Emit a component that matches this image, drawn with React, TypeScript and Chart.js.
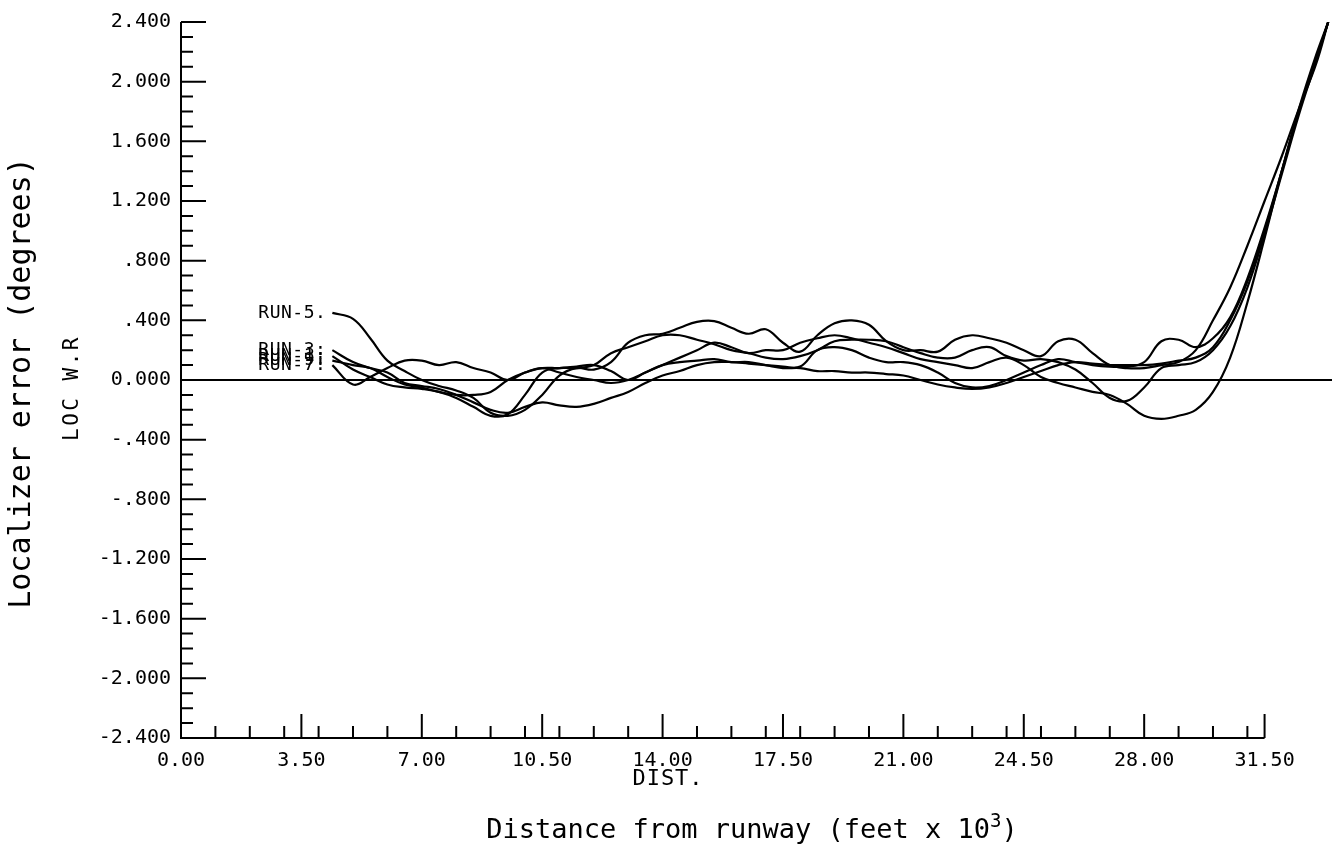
import React, { useEffect, useRef } from "react";
import { Chart, registerables } from "chart.js";

Chart.register(...registerables);

// ---------- data ----------
const distance = [
  4.4, 5, 5.5, 6, 6.5, 7, 7.5, 8, 8.5, 9, 9.5, 10, 10.5, 11, 11.5, 12, 12.5, 13, 13.5, 14,
  14.5, 15, 15.5, 16, 16.5, 17, 17.5, 18, 18.5, 19, 19.5, 20, 20.5, 21, 21.5, 22, 22.5, 23,
  23.5, 24, 24.5, 25, 25.5, 26, 26.5, 27, 27.5, 28, 28.5, 29, 29.5, 30, 30.5, 31, 31.5, 32,
  32.5, 33, 33.35,
];

const run5 = [
  0.45, 0.41, 0.28, 0.13, 0.06, 0.0, -0.04, -0.07, -0.12, -0.22, -0.24, -0.2, -0.1, 0.03, 0.08,
  0.07, 0.12, 0.25, 0.3, 0.31, 0.35, 0.39, 0.395, 0.35, 0.31, 0.34, 0.25, 0.19, 0.3, 0.38, 0.4,
  0.37, 0.26, 0.2, 0.2, 0.19, 0.27, 0.3, 0.28, 0.25, 0.2, 0.16, 0.26, 0.27, 0.18, 0.1, 0.08,
  0.08, 0.1, 0.12, 0.2, 0.4, 0.62, 0.9, 1.2, 1.5, 1.82, 2.12, 2.4,
];
const run3 = [
  0.2, 0.12, 0.08, 0.05, -0.02, -0.04, -0.06, -0.1, -0.15, -0.2, -0.22, -0.18, -0.15, -0.17,
  -0.18, -0.16, -0.12, -0.08, -0.02, 0.03, 0.06, 0.1, 0.12, 0.12, 0.11, 0.1, 0.09, 0.09, 0.2,
  0.22, 0.2, 0.15, 0.12, 0.12, 0.1, 0.05, -0.02, -0.05, -0.04, 0.0, 0.05, 0.1, 0.14, 0.12, 0.1,
  0.09, 0.09, 0.12, 0.26, 0.27, 0.22, 0.28, 0.42, 0.68, 1.02, 1.4, 1.8, 2.15, 2.4,
];
const run1 = [
  0.16, 0.07, 0.02, -0.03, -0.05, -0.06, -0.08, -0.12, -0.18, -0.24, -0.23, -0.1, 0.05, 0.08,
  0.08, 0.1, 0.18, 0.22, 0.26, 0.3, 0.3, 0.27, 0.24, 0.2, 0.18, 0.15, 0.14, 0.16, 0.2, 0.26,
  0.27, 0.27, 0.26, 0.22, 0.18, 0.15, 0.15, 0.2, 0.22, 0.16, 0.13, 0.14, 0.12, 0.07, -0.02,
  -0.12, -0.14, -0.05, 0.08, 0.1, 0.12, 0.2, 0.36, 0.62, 0.98, 1.38, 1.78, 2.14, 2.4,
];
const run9 = [
  0.13, 0.1, 0.08, 0.02, -0.03, -0.05, -0.08, -0.1, -0.1, -0.08, 0.0, 0.05, 0.08, 0.05, 0.02,
  0.0, -0.02, 0.0, 0.05, 0.1, 0.15, 0.2, 0.25, 0.22, 0.18, 0.2, 0.2, 0.25, 0.28, 0.3, 0.28,
  0.25, 0.22, 0.18, 0.14, 0.12, 0.1, 0.08, 0.12, 0.15, 0.1, 0.02, -0.02, -0.05, -0.08, -0.1,
  -0.16, -0.24, -0.26, -0.24, -0.2, -0.08, 0.15, 0.52, 0.95, 1.4, 1.82, 2.18, 2.4,
];
const run7 = [
  0.1, -0.03, 0.02, 0.08, 0.13, 0.13, 0.1, 0.12, 0.08, 0.05, 0.0, 0.05, 0.08, 0.08, 0.09, 0.1,
  0.06, 0.0, 0.05, 0.1, 0.12, 0.13, 0.14, 0.12, 0.12, 0.1, 0.08, 0.08, 0.06, 0.06, 0.05, 0.05,
  0.04, 0.03, 0.0, -0.03, -0.05, -0.06, -0.05, -0.02, 0.02, 0.06, 0.1, 0.12, 0.11, 0.1, 0.1,
  0.1, 0.11, 0.13, 0.15, 0.22, 0.4, 0.66, 1.0, 1.4, 1.8, 2.15, 2.4,
];

const runSeries = [run5, run3, run1, run9, run7];
const runLabels = ["RUN-5.", "RUN-3:", "RUN-1:", "RUN-9:", "RUN-7:"];

const zeroLineX = [0, 33.46];
const zeroLineY = [0, 0];

const xTickValues = [0, 3.5, 7, 10.5, 14, 17.5, 21, 24.5, 28, 31.5];
const xTickLabels = ["0.00", "3.50", "7.00", "10.50", "14.00", "17.50", "21.00", "24.50", "28.00", "31.50"];
const yTickValues = [2.4, 2.0, 1.6, 1.2, 0.8, 0.4, 0, -0.4, -0.8, -1.2, -1.6, -2.0, -2.4];
const yTickLabels = ["2.400", "2.000", "1.600", "1.200", ".800", ".400", "0.000", "-.400", "-.800", "-1.200", "-1.600", "-2.000", "-2.400"];

const X_MIN = 0;
const X_MAX = 33.46;
const X_AXIS_END = 31.5;
const Y_MIN = -2.4;
const Y_MAX = 2.4;

const MONO = "'DejaVu Sans Mono', monospace";

const plotterPlugin = {
  id: "plotter",
  afterDatasetsDraw(chart: any) {
    const { ctx } = chart;
    const xs = chart.scales.x;
    const ys = chart.scales.y;
    ctx.save();
    ctx.strokeStyle = "#000";
    ctx.fillStyle = "#000";
    ctx.lineWidth = 2;
    ctx.lineCap = "butt";

    const x0 = xs.getPixelForValue(X_MIN);
    const xEnd = xs.getPixelForValue(X_AXIS_END);
    const yTop = ys.getPixelForValue(Y_MAX);
    const yBot = ys.getPixelForValue(Y_MIN);

    ctx.beginPath();
    ctx.moveTo(x0, yTop);
    ctx.lineTo(x0, yBot);
    ctx.lineTo(xEnd, yBot);
    ctx.stroke();

    // y ticks: minor every 0.1, major every 0.4 (inward)
    ctx.beginPath();
    for (let i = 0; i <= 48; i++) {
      const v = Y_MIN + i * 0.1;
      const py = ys.getPixelForValue(v);
      const len = i % 4 === 0 ? 25 : 12;
      ctx.moveTo(x0, py);
      ctx.lineTo(x0 + len, py);
    }
    // x ticks: minor at every 1.0, major at every 3.5
    for (let i = 1; i <= 31; i++) {
      const px = xs.getPixelForValue(i);
      ctx.moveTo(px, yBot);
      ctx.lineTo(px, yBot - 12);
    }
    for (let i = 1; i < xTickValues.length; i++) {
      const px = xs.getPixelForValue(xTickValues[i]);
      ctx.moveTo(px, yBot);
      ctx.lineTo(px, yBot - 24);
    }
    ctx.stroke();

    // run labels
    ctx.font = `18px ${MONO}`;
    (ctx as any).letterSpacing = "0.5px";
    ctx.textAlign = "right";
    ctx.textBaseline = "middle";
    runSeries.forEach((s, i) => {
      const px = xs.getPixelForValue(distance[0]) - 6;
      const py = ys.getPixelForValue(s[0]);
      ctx.fillText(runLabels[i], px, py);
    });

    // LOC W.R
    ctx.save();
    ctx.translate(73, 388);
    ctx.rotate(-Math.PI / 2);
    ctx.font = `21px ${MONO}`;
    (ctx as any).letterSpacing = "2.5px";
    ctx.textAlign = "center";
    ctx.textBaseline = "middle";
    ctx.fillText("LOC W.R", 0, 0);
    ctx.restore();

    // Localizer error (degrees)
    ctx.save();
    ctx.translate(22, 383);
    ctx.rotate(-Math.PI / 2);
    ctx.font = `30px ${MONO}`;
    (ctx as any).letterSpacing = "0px";
    ctx.textAlign = "center";
    ctx.textBaseline = "middle";
    ctx.fillText("Localizer error (degrees)", 0, 0);
    ctx.restore();

    // DIST.
    ctx.font = `22px ${MONO}`;
    (ctx as any).letterSpacing = "1px";
    ctx.textAlign = "center";
    ctx.textBaseline = "middle";
    ctx.fillText("DIST.", 668, 779);

    // Distance from runway (feet x 10^3)
    (ctx as any).letterSpacing = "0px";
    const main = "Distance from runway (feet x 10";
    const big = `27px ${MONO}`;
    const small = `19px ${MONO}`;
    ctx.font = big;
    const w1 = ctx.measureText(main).width;
    const w3 = ctx.measureText(")").width;
    ctx.font = small;
    const w2 = ctx.measureText("3").width;
    const total = w1 + w2 + w3;
    let sx = 752 - total / 2;
    const by = 838;
    ctx.textAlign = "left";
    ctx.textBaseline = "alphabetic";
    ctx.font = big;
    ctx.fillText(main, sx, by);
    sx += w1;
    ctx.font = small;
    ctx.fillText("3", sx, by - 11);
    sx += w2;
    ctx.font = big;
    ctx.fillText(")", sx, by);

    ctx.restore();
  },
};

export default function App() {
  const ref = useRef<HTMLCanvasElement>(null);
  useEffect(() => {
    document.body.style.margin = "0";
    const canvas = ref.current!;
    const datasets: any[] = runSeries.map((s, i) => ({
      label: runLabels[i],
      data: distance.map((d, k) => ({ x: d, y: s[k] })),
      borderColor: "#000",
      borderWidth: 2.2,
      pointRadius: 0,
      tension: 0.4,
      fill: false,
    }));
    datasets.push({
      label: "zero",
      data: zeroLineX.map((d, k) => ({ x: d, y: zeroLineY[k] })),
      borderColor: "#000",
      borderWidth: 2,
      pointRadius: 0,
      tension: 0,
      fill: false,
    });
    const chart = new Chart(canvas, {
      type: "line",
      data: { datasets },
      options: {
        animation: false,
        responsive: false,
        maintainAspectRatio: false,
        layout: { padding: { top: 22, left: 0, right: 0, bottom: 0 } },
        plugins: { legend: { display: false }, tooltip: { enabled: false } },
        scales: {
          x: {
            type: "linear",
            min: X_MIN,
            max: X_MAX,
            grid: { display: false, drawTicks: false },
            border: { display: false },
            afterFit: (s: any) => {
              s.height = 113;
            },
            afterBuildTicks: (s: any) => {
              s.ticks = xTickValues.map((v) => ({ value: v }));
            },
            ticks: {
              autoSkip: false,
              maxRotation: 0,
              minRotation: 0,
              padding: 11,
              color: "#000",
              font: { family: MONO, size: 20 },
              callback: (_v: any, i: number) => xTickLabels[i],
            },
          },
          y: {
            type: "linear",
            min: Y_MIN,
            max: Y_MAX,
            grid: { display: false, drawTicks: false },
            border: { display: false },
            afterFit: (s: any) => {
              s.width = 181;
            },
            afterBuildTicks: (s: any) => {
              s.ticks = yTickValues.map((v) => ({ value: v }));
            },
            ticks: {
              autoSkip: false,
              padding: 10,
              color: "#000",
              font: { family: MONO, size: 20 },
              callback: (_v: any, i: number) => yTickLabels[i],
            },
          },
        },
      },
      plugins: [plotterPlugin],
    });
    return () => chart.destroy();
  }, []);
  return (
    <div style={{ width: 1332, height: 851, background: "#fff" }}>
      <canvas ref={ref} width={1332} height={851} style={{ display: "block", width: 1332, height: 851 }} />
    </div>
  );
}
